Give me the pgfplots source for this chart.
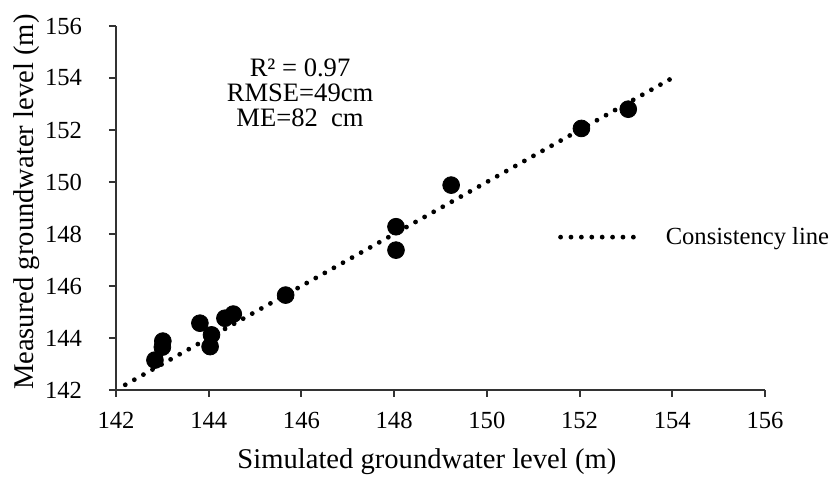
\documentclass[border=0pt]{standalone}
\usepackage{fontspec}
\setmainfont{Liberation Serif}
\usepackage{pgfplots}
\pgfplotsset{compat=1.18}

\begin{document}
\begin{tikzpicture}
\begin{axis}[
    scale only axis,
    width=324.5pt, height=182pt,
    xmin=142, xmax=156, ymin=142, ymax=156,
    xtick={142,144,...,156}, ytick={142,144,...,156},
    axis lines=left,
    axis line style={-, line width=1pt, black!80},
    tick align=outside,
    major tick length=3.5pt,
    tick style={line width=1pt, black!80},
    /pgf/number format/assume math mode=true,
    /pgf/number format/1000 sep={},
    ticklabel style={font=\fontsize{12.3}{14}\selectfont},
    xticklabel style={yshift=-4pt},
    yticklabel style={xshift=-10pt},
    xlabel={Simulated groundwater level (m)},
    ylabel={Measured groundwater level (m)},
    label style={font=\fontsize{14.3}{16}\selectfont},
    xlabel style={at={(axis description cs:0.479,-0.198)}, anchor=center},
    ylabel style={at={(axis description cs:-0.137,0.516)}, anchor=center},
    clip=false,
    legend style={at={(axis cs:151.53,147.88)}, anchor=west, draw=none, fill=none,
        font=\fontsize{12.3}{14}\selectfont, inner sep=0pt,
        nodes={inner sep=0pt}},
    legend image code/.code={\draw[#1] (0pt,0pt) -- (36.4pt,0pt);},
]
\addplot[only marks, mark=*, mark size=4.2pt, black, forget plot] coordinates {
(149.23,149.88)
(148.04,148.28)
(148.04,147.38)
(152.04,152.06)
(153.05,152.80)
(145.66,145.65)
(144.35,144.76)
(144.53,144.92)
(143.81,144.57)
(144.06,144.12)
(144.03,143.67)
(143.01,143.88)
(143.00,143.65)
(142.84,143.15)
};
\addplot[black, line width=2.4pt, line cap=round, dash pattern=on 0pt off 5.2pt] coordinates {
(142.2,142.2)
(154.0,154.0)
};
\addlegendentry{\hspace{15pt}Consistency line}
\node[align=center, font=\fontsize{13.3}{12.5}\selectfont] at (axis cs:145.97,153.42)
    {R² = 0.97\\RMSE=49cm\\ME=82\ \ cm};
% page margins as in the reference
\path (rel axis cs:0,0) ++(-58pt,-44pt);
\path (rel axis cs:1,1) ++(32.5pt,13pt);
\end{axis}
\end{tikzpicture}
\end{document}
